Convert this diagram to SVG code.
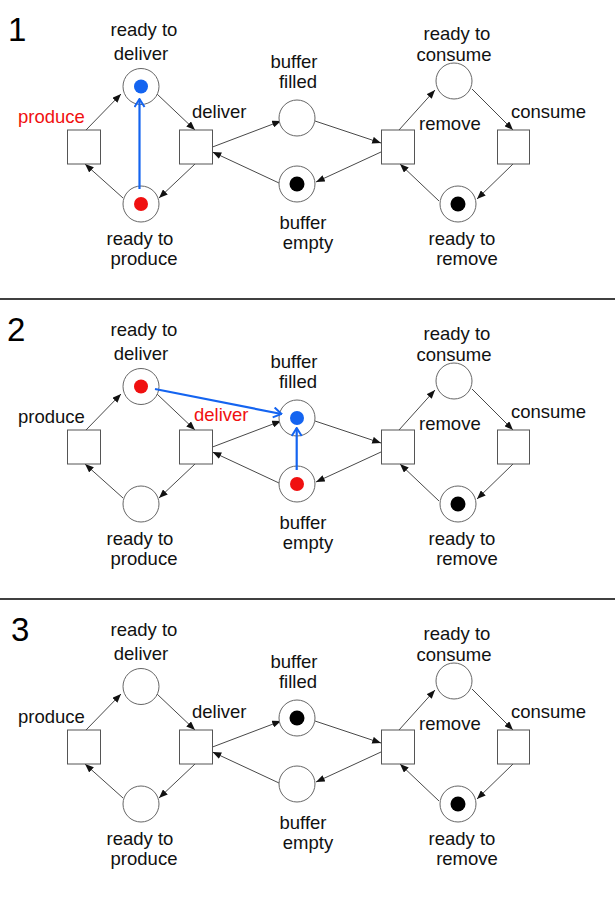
<svg xmlns="http://www.w3.org/2000/svg" width="615" height="900" viewBox="0 0 615 900">
<defs>
<style>
text{font-family:"Liberation Sans",Arial,sans-serif;font-size:18.5px;fill:#111}
.c{text-anchor:middle}
.num{font-size:33px;fill:#000}
.red{fill:#f01010}
.pl{fill:#fff;stroke:#666;stroke-width:1}
.tr{fill:#fff;stroke:#555;stroke-width:1}
.arc{stroke:#333;stroke-width:0.9;fill:none;marker-end:url(#ah)}
.blue{stroke:#1464f0;stroke-width:2.2;fill:none;marker-end:url(#bh)}
.tk{fill:#000}
.tb{fill:#1464f0}
.trd{fill:#f01010}
.div{stroke:#000;stroke-width:1.6}
</style>
<marker id="ah" viewBox="0 0 10 8" refX="10" refY="4" markerWidth="9" markerHeight="7" markerUnits="userSpaceOnUse" orient="auto"><path d="M0,0 L10,4 L0,8 z" fill="#111"/></marker>
<marker id="bh" viewBox="0 0 10 12" refX="9" refY="6" markerWidth="10" markerHeight="12" markerUnits="userSpaceOnUse" orient="auto"><path d="M1,1 L9,6 L1,11" fill="none" stroke="#1464f0" stroke-width="2"/></marker>
<g id="arcs-def">
<path id="a1" d="M86,130 L121,94"/>
</g>
</defs>
<rect width="615" height="900" fill="#fff"/>
<line class="div" x1="0" y1="299" x2="615" y2="299"/>
<line class="div" x1="0" y1="599" x2="615" y2="599"/>

<!-- PANEL 1 -->
<g id="panel1">
<text class="num" x="8" y="41">1</text>
<g id="p1-connectors">
<path class="arc" d="M86,130 L121,94"/>
<path class="arc" d="M157,94 L195,130"/>
<path class="arc" d="M195,164 L159,198"/>
<path class="arc" d="M123,198 L85,164"/>
<path class="arc" d="M212.5,147 L281,121"/>
<path class="arc" d="M279,183 L212.5,152"/>
<path class="arc" d="M315,121 L381,143"/>
<path class="arc" d="M381,152 L316,182"/>
<path class="arc" d="M399,130 L435,90"/>
<path class="arc" d="M472,89 L513,130"/>
<path class="arc" d="M513,164 L477,199"/>
<path class="arc" d="M439,201 L400,164"/>
</g>
<g id="p1-ready-to-deliver"><circle class="pl" cx="141" cy="86.5" r="18"/><circle class="tb" cx="141" cy="86.5" r="7"/><text class="c" x="144" y="36">ready to</text><text class="c" x="141" y="60">deliver</text></g>
<g id="p1-ready-to-produce"><circle class="pl" cx="141" cy="204" r="18"/><circle class="trd" cx="141" cy="204" r="7"/><text class="c" x="140" y="245">ready to</text><text class="c" x="144" y="265">produce</text></g>
<g id="p1-produce"><rect class="tr" x="67.5" y="130" width="33" height="34"/><text class="red" x="18" y="123">produce</text></g>
<g id="p1-deliver"><rect class="tr" x="179.5" y="130" width="33" height="34"/><text x="192" y="118">deliver</text></g>
<g id="p1-buffer-filled"><circle class="pl" cx="297" cy="118" r="18"/><text class="c" x="294" y="68">buffer</text><text class="c" x="298" y="88">filled</text></g>
<g id="p1-buffer-empty"><circle class="pl" cx="297" cy="184" r="18"/><circle class="tk" cx="297" cy="184" r="7.5"/><text class="c" x="303" y="229">buffer</text><text class="c" x="308" y="249">empty</text></g>
<g id="p1-remove"><rect class="tr" x="381.5" y="130" width="33" height="34"/><text x="419" y="130">remove</text></g>
<g id="p1-consume"><rect class="tr" x="497.5" y="130" width="32" height="34"/><text x="511" y="118">consume</text></g>
<g id="p1-ready-to-consume"><circle class="pl" cx="454" cy="81" r="18"/><text class="c" x="457" y="40">ready to</text><text class="c" x="454" y="60.5">consume</text></g>
<g id="p1-ready-to-remove"><circle class="pl" cx="458" cy="204" r="18"/><circle class="tk" cx="458" cy="204" r="7.5"/><text class="c" x="462" y="245">ready to</text><text class="c" x="467" y="265">remove</text></g>
<g id="p1-firing"><path class="blue" d="M139.5,189 L139.5,99"/></g>
</g>

<!-- PANEL 2 -->
<g id="panel2" transform="translate(0,300)">
<text class="num" x="7" y="41">2</text>
<g id="p2-connectors">
<path class="arc" d="M86,130 L121,94"/>
<path class="arc" d="M157,94 L195,130"/>
<path class="arc" d="M195,164 L159,198"/>
<path class="arc" d="M123,198 L85,164"/>
<path class="arc" d="M212.5,147 L281,121"/>
<path class="arc" d="M279,183 L212.5,152"/>
<path class="arc" d="M315,121 L381,143"/>
<path class="arc" d="M381,152 L316,182"/>
<path class="arc" d="M399,130 L435,90"/>
<path class="arc" d="M472,89 L513,130"/>
<path class="arc" d="M513,164 L477,199"/>
<path class="arc" d="M439,201 L400,164"/>
</g>
<g id="p2-ready-to-deliver"><circle class="pl" cx="141" cy="86.5" r="18"/><circle class="trd" cx="141" cy="86.5" r="7"/><text class="c" x="144" y="36">ready to</text><text class="c" x="141" y="60">deliver</text></g>
<g id="p2-ready-to-produce"><circle class="pl" cx="141" cy="204" r="18"/><text class="c" x="140" y="245">ready to</text><text class="c" x="144" y="265">produce</text></g>
<g id="p2-produce"><rect class="tr" x="67.5" y="130" width="33" height="34"/><text x="18" y="123">produce</text></g>
<g id="p2-deliver"><rect class="tr" x="179.5" y="130" width="33" height="34"/><text class="red" x="194" y="120.5">deliver</text></g>
<g id="p2-buffer-filled"><circle class="pl" cx="297" cy="118" r="18"/><circle class="tb" cx="297" cy="118" r="7"/><text class="c" x="294" y="68">buffer</text><text class="c" x="298" y="88">filled</text></g>
<g id="p2-buffer-empty"><circle class="pl" cx="297" cy="184" r="18"/><circle class="trd" cx="297" cy="184" r="7"/><text class="c" x="303" y="229">buffer</text><text class="c" x="308" y="249">empty</text></g>
<g id="p2-remove"><rect class="tr" x="381.5" y="130" width="33" height="34"/><text x="419" y="130">remove</text></g>
<g id="p2-consume"><rect class="tr" x="497.5" y="130" width="32" height="34"/><text x="511" y="118">consume</text></g>
<g id="p2-ready-to-consume"><circle class="pl" cx="454" cy="81" r="18"/><text class="c" x="457" y="40">ready to</text><text class="c" x="454" y="60.5">consume</text></g>
<g id="p2-ready-to-remove"><circle class="pl" cx="458" cy="204" r="18"/><circle class="tk" cx="458" cy="204" r="7.5"/><text class="c" x="462" y="245">ready to</text><text class="c" x="467" y="265">remove</text></g>
<g id="p2-firing"><path class="blue" d="M155,89 L281.5,114"/><path class="blue" d="M296.7,170 L296.7,128"/></g>
</g>

<!-- PANEL 3 -->
<g id="panel3" transform="translate(0,600)">
<text class="num" x="11" y="41">3</text>
<g id="p3-connectors">
<path class="arc" d="M86,130 L121,94"/>
<path class="arc" d="M157,94 L195,130"/>
<path class="arc" d="M195,164 L159,198"/>
<path class="arc" d="M123,198 L85,164"/>
<path class="arc" d="M212.5,147 L281,121"/>
<path class="arc" d="M279,183 L212.5,152"/>
<path class="arc" d="M315,121 L381,143"/>
<path class="arc" d="M381,152 L316,182"/>
<path class="arc" d="M399,130 L435,90"/>
<path class="arc" d="M472,89 L513,130"/>
<path class="arc" d="M513,164 L477,199"/>
<path class="arc" d="M439,201 L400,164"/>
</g>
<g id="p3-ready-to-deliver"><circle class="pl" cx="141" cy="86.5" r="18"/><text class="c" x="144" y="36">ready to</text><text class="c" x="141" y="60">deliver</text></g>
<g id="p3-ready-to-produce"><circle class="pl" cx="141" cy="204" r="18"/><text class="c" x="140" y="245">ready to</text><text class="c" x="144" y="265">produce</text></g>
<g id="p3-produce"><rect class="tr" x="67.5" y="130" width="33" height="34"/><text x="18" y="123">produce</text></g>
<g id="p3-deliver"><rect class="tr" x="179.5" y="130" width="33" height="34"/><text x="192" y="118">deliver</text></g>
<g id="p3-buffer-filled"><circle class="pl" cx="297" cy="118" r="18"/><circle class="tk" cx="297" cy="118" r="7.5"/><text class="c" x="294" y="68">buffer</text><text class="c" x="298" y="88">filled</text></g>
<g id="p3-buffer-empty"><circle class="pl" cx="297" cy="184" r="18"/><text class="c" x="303" y="229">buffer</text><text class="c" x="308" y="249">empty</text></g>
<g id="p3-remove"><rect class="tr" x="381.5" y="130" width="33" height="34"/><text x="419" y="130">remove</text></g>
<g id="p3-consume"><rect class="tr" x="497.5" y="130" width="32" height="34"/><text x="511" y="118">consume</text></g>
<g id="p3-ready-to-consume"><circle class="pl" cx="454" cy="81" r="18"/><text class="c" x="457" y="40">ready to</text><text class="c" x="454" y="60.5">consume</text></g>
<g id="p3-ready-to-remove"><circle class="pl" cx="458" cy="204" r="18"/><circle class="tk" cx="458" cy="204" r="7.5"/><text class="c" x="462" y="245">ready to</text><text class="c" x="467" y="265">remove</text></g>
</g>
</svg>
